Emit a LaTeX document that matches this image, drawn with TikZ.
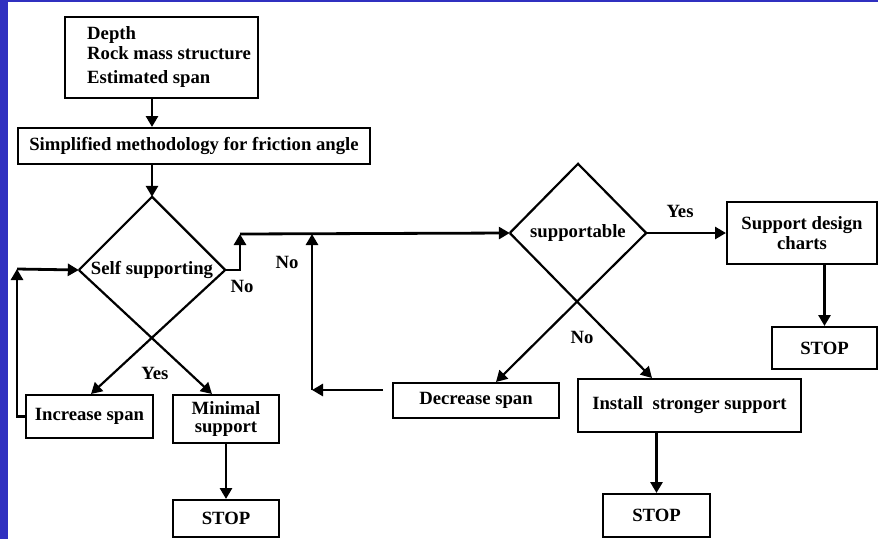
\documentclass[tikz,border=0pt]{standalone}
\usepackage{fontspec}
\setmainfont{Liberation Serif}
\usetikzlibrary{shapes.geometric,arrows.meta}
\definecolor{frameblue}{RGB}{48,48,192}
\begin{document}
\begin{tikzpicture}[x=1pt,y=-1pt,
  every node/.style={font=\fontsize{18.7}{20}\selectfont\bfseries,inner sep=0pt},
  box/.style={draw,line width=2pt,align=center},
  dec/.style={shape=diamond},
  dline/.style={line width=2.2pt},
  darr/.style={line width=2.2pt,-{Triangle[length=11pt,width=12pt]}},
  arr/.style={line width=2.8pt,-{Triangle[length=11pt,width=12pt]}}]
\useasboundingbox (0,0) rectangle (878,539);
\fill[white] (0,0) rectangle (878,539);
\fill[frameblue] (0,0) rectangle (8,539);
\fill[frameblue] (0,0) rectangle (878,2);
% boxes
\node[box,minimum width=193pt,minimum height=81pt] (box1) at (161.5,57.5) {};
\node[anchor=west,align=left] (box1txt) at (87,57) {Depth\\Rock mass structure\\[4pt]Estimated span};
\node[box,minimum width=352pt,minimum height=36pt] (box2) at (194,146) {Simplified methodology for friction angle};
\node[dec,minimum width=146pt,minimum height=146pt] (dia1) at (152,270) {Self supporting};
\node[box,minimum width=127pt,minimum height=43pt] (inc) at (89.5,416.5) {Increase span};
\node[box,minimum width=106pt,minimum height=48pt,font=\fontsize{18.7}{18.5}\selectfont\bfseries] (minimal) at (226,419) {Minimal\\support};
\node[box,minimum width=106pt,minimum height=37pt] (stop1) at (226,518.5) {STOP};
\node[dec,minimum width=136pt,minimum height=138pt] (dia2) at (578,233) {supportable};
\node[box,minimum width=150pt,minimum height=62pt] (support) at (802,233) {Support design\\charts};
\node[box,minimum width=105pt,minimum height=42pt] (stop3) at (824.5,348) {STOP};
\node[box,minimum width=166pt,minimum height=35pt] (decrease) at (476,400.5) {Decrease span};
\node[box,minimum width=223pt,minimum height=53pt] (install) at (689.5,405.5) {Install\hspace{0.25em} stronger support};
\node[box,minimum width=107pt,minimum height=43pt] (stop2) at (656.5,515.5) {STOP};
% labels
\node (no1) at (242,286) {No};
\node (no2) at (287,262) {No};
\node (yes1) at (155,373) {Yes};
\node (yes2) at (680,211) {Yes};
\node (no3) at (582,337) {No};
% coordinates
\coordinate (L) at (17,269);
\coordinate (J) at (240,234);
\coordinate (D0) at (383,390);
\coordinate (D1) at (312,390);
% connectors
\draw[arr] (box1.south -| dia1.north) -- (box2.north -| dia1.north);
\draw[arr] (box2.south -| dia1.north) -- (dia1.north);
\draw[dline] (dia1.west) -- (dia1.north) -- (dia1.east);
\draw[darr] (dia1.west) -- ([xshift=40pt]minimal.north west);
\draw[darr] (dia1.east) -- ([xshift=66pt]inc.north west);
\draw[arr] (inc.west) -| (L);
\draw[arr] (L) -- (dia1.west);
\draw[arr] (dia1.east) -| (J);
\draw[arr] (J) -- (dia2.west);
\draw[arr] (D0) -- (D1);
\draw[arr] (D1) -- (D1 |- J);
\draw[dline] (dia2.west) -- (dia2.north) -- (dia2.east);
\draw[darr] (dia2.west) -- ([xshift=75pt]install.north west);
\draw[darr] (dia2.east) -- ([xshift=104pt]decrease.north west);
\draw[arr] (dia2.east) -- (support.west);
\draw[arr] (support.south -| stop3.north) -- (stop3.north);
\draw[arr] (install.south -| stop2.north) -- (stop2.north);
\draw[arr] (minimal.south) -- (stop1.north);
\end{tikzpicture}
\end{document}
